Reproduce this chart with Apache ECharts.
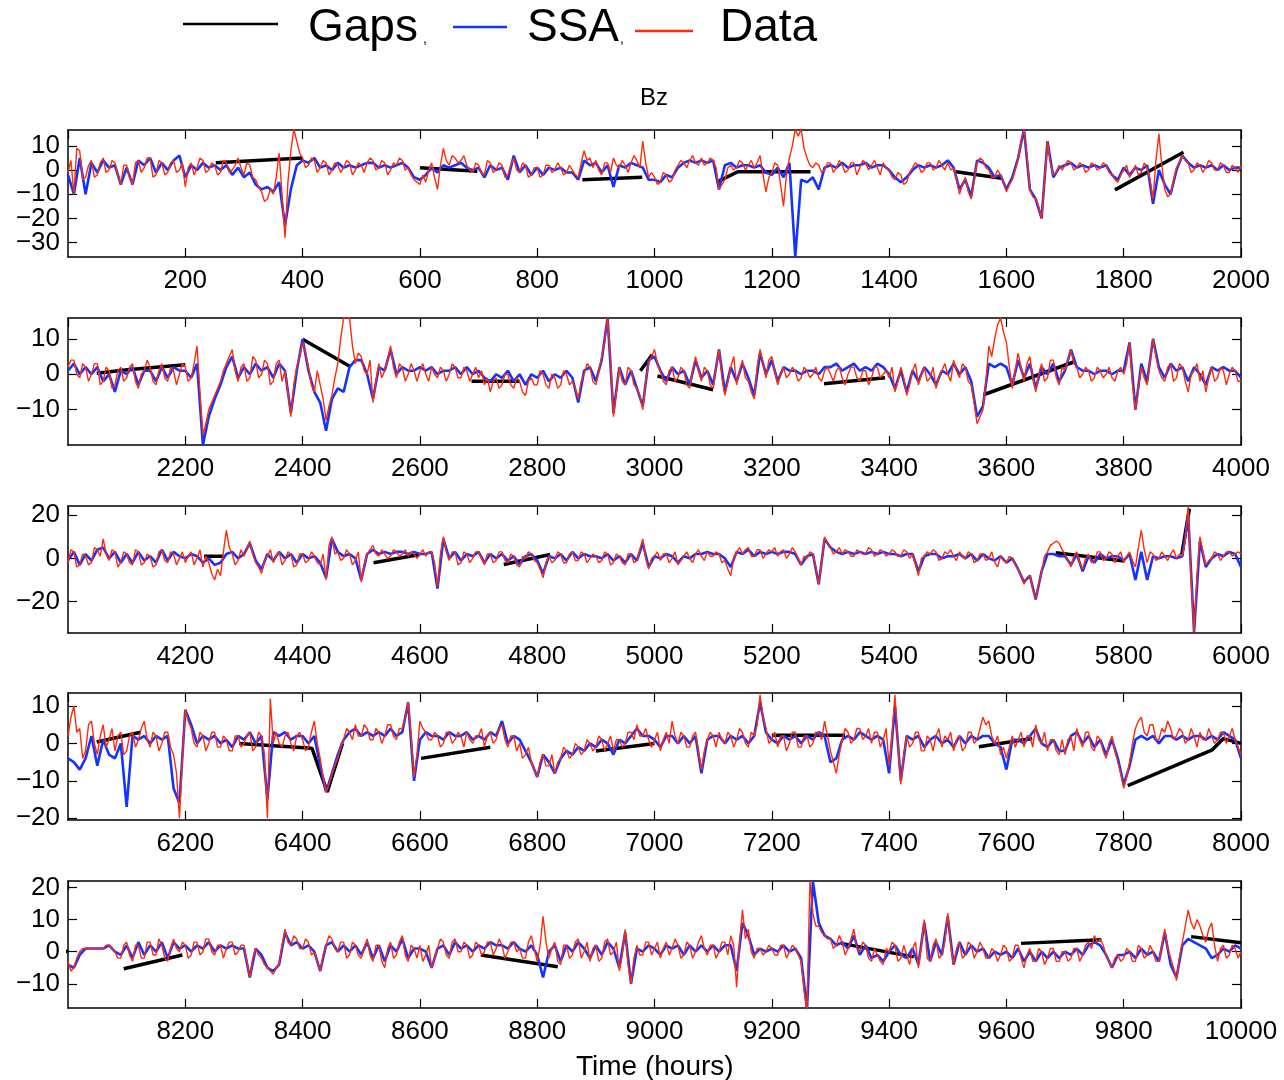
<!DOCTYPE html>
<html>
<head>
<meta charset="utf-8">
<script src="https://cdn.jsdelivr.net/npm/echarts@6/dist/echarts.min.js"></script>
<style>
  html, body { margin: 0; padding: 0; background: #fff; }
  #chart { width: 1284px; height: 1080px; }
</style>
</head>
<body>
<div id="chart"></div>
<script>
const dataStep = 5;
const ssaStep = 10;

const dataBz = [
  // 0
  -1, 4, -10, 9, 8, -4, -3, 2, 4, -3, -2, 3, 5, -1, 0, 4, 3, -2, -6, 2,
  2, -3, -6, 3, 4, -1, 1, 5, 5, -3, -2, 4, 3, -2, -1, 3, 4, -1, 0, 3,
  -7, 1, 3, -2, 1, 5, 4, -1, 0, 3, 2, -2, -1, 4, 3, -1, 0, 2, 5, 1,
  -2, 3, 2, -3, -4, -7, -9, -13, -12, -8, -10, -3, 7, -10, -28, -5, 8, 17, 12, 7,
  5, 1, 2, 5, 4, -1, 1, 4, 3, -2, 0, 3, 2, -1, 1, 4, 3, -2, 0, 3,
  2, -1, 3, 5, 4, 0, 1, 4, 3, -2, 0, 3, 2, 5, 4, 0, 1, -2, -4, -5,
  -6, -2, -5, 0, 3, -3, -8, 2, 9, 4, 2, 6, 5, 3, 4, 6, 2, 0, -1, 3,
  2, -1, -2, 4, 3, -1, 0, 3, 2, -3, -2, 2, 5, 0, -1, 3, 2, -3, -2, 1,
  1, -3, -2, 2, 2, -1, 0, 3, 1, -2, -1, 2, 0, -2, -3, 3, 8, 4, 5, 1,
  4, 0, -2, 3, 3, -1, 5, 2, 1, 4, 2, -1, 3, 6, 4, 1, 12, 3, -3, -1,
  // 1000
  -3, -6, -5, -1, -2, -5, -4, 0, 2, 4, 3, 1, 4, 6, 3, 2, 5, 2, 3, 5,
  4, 1, -8, -6, -4, 1, 2, 0, 1, 4, 3, 0, 2, 4, 1, 3, 6, -2, -9, -3,
  -1, 3, 2, -6, -15, -2, 5, 10, 17, 14, 17, 9, 5, 2, 1, 3, 2, -1, 0, 3,
  3, -1, 1, 4, 2, -1, 0, 3, 3, -2, 1, 4, 3, 0, 2, 4, 1, -2, 3, 1,
  0, -3, -4, -1, -2, -6, -5, -1, 1, 3, 2, -1, 0, 3, 3, 0, 1, 4, 2, 0,
  3, 0, 1, -4, -10, -6, -3, -9, -12, -4, 3, 5, 4, 1, 0, -3, -3, 0, -2, -5,
  -9, -6, -4, 0, 5, 12, 17, 6, -8, -11, -12, -15, -20, -5, 12, 3, -2, -1, 2, 0,
  2, 4, 3, 0, 1, 3, 2, -1, 0, 3, 2, 0, 1, 3, 2, -1, -2, -4, -5, -2,
  0, 2, -3, -1, 2, -2, -1, 3, 1, -4, -12, 4, 15, 2, -8, -11, -10, -4, 1, 3,
  6, 4, 3, -1, 0, 3, 2, -1, 1, 4, 3, 0, 0, 3, 2, -1, -1, 2, 1, -1,
  // 2000
  2, 4, 4, 0, -1, 3, 2, -2, 0, 3, 3, -3, -2, 2, 1, -4, -3, 1, 2, -2,
  -1, 2, 3, -2, -4, 0, 1, 4, 2, -2, -3, 1, 3, -1, -2, 2, 1, -3, 0, 3,
  2, -2, -1, 3, 8, -5, -17, -14, -10, -8, -6, -4, -2, 1, 3, 5, 7, 1, -2, 2,
  3, -2, -1, 5, 4, -1, 0, 4, 3, -3, -2, 3, 4, -2, 1, -5, -12, -3, 2, 5,
  9, 6, 2, -3, -5, 1, -3, -7, -13, -9, -6, -1, 3, 10, 16, 16, 16, 8, 3, 6,
  5, 1, 0, 4, -8, -2, 3, -1, 1, 4, 8, 2, -1, 3, 2, -2, 0, 3, 1, -2,
  1, 3, 0, -2, 2, 0, -1, 2, 1, -2, 0, 3, 2, -1, -1, 2, 1, -2, 0, 2,
  -1, 1, -3, -1, -5, -2, -1, -4, -3, 0, 0, -3, -4, -1, -2, -5, -6, -2, -1, -3,
  -3, 1, 0, -3, -4, 0, -1, -4, -3, 1, 0, -3, -2, -4, -7, -2, 0, 3, 2, -2,
  -3, 1, 5, 9, 16, 4, -12, -5, 2, -2, -3, 2, 1, -3, -4, -6, -10, -2, 3, 5,
  // 3000
  7, 3, 1, -2, -3, 1, 2, -2, -1, 2, 1, -3, -4, 1, 5, 1, -2, 2, 1, -3,
  -4, 2, 7, -1, -6, -2, 2, 5, -3, 1, 4, -1, -2, -5, -7, 2, 7, 3, -1, 4,
  5, 1, -3, 0, 2, -1, 0, 2, 1, -2, -1, 2, 1, -1, 0, 2, -1, -2, 1, 2,
  0, -2, 1, 2, -1, -3, 0, 2, 2, -1, -2, 1, 1, -3, -1, 2, 2, -1, 0, 1,
  -1, 2, -5, -2, 2, -1, -6, -3, 1, 3, -3, 0, 2, -2, -1, 2, -4, -1, 1, 3,
  0, -2, 4, 1, -1, 3, 2, -2, -3, -8, -14, -12, -10, -2, 8, 5, 10, 14, 16, 12,
  9, 2, -4, 1, 6, 2, -2, 3, 5, -1, -5, 0, 3, -2, -1, 4, 4, -1, -3, 2,
  1, 4, 7, 3, 2, -1, 0, 2, 1, -2, -1, 2, 1, -1, 0, 2, -1, -2, 1, 2,
  0, 3, 9, -3, -10, -4, 2, -1, -3, 4, 10, 5, 1, -1, -2, 2, 3, -2, -1, 3,
  2, -2, -5, 0, 1, 3, -2, 1, -5, -1, 2, -2, -1, 2, 1, -3, 0, 2, 1, -2,
  // 4000
  -2, 4, 3, -4, -3, 2, 1, -3, -2, 5, 4, 1, 9, 2, -1, 4, 3, -4, -2, 3,
  2, -2, -3, 4, 3, -3, -2, 2, 1, -4, -3, 3, 4, -1, -2, 3, 2, -3, 0, 3,
  -2, 1, 3, -3, 0, 4, -4, 1, -2, -7, -10, -5, -8, 3, 13, 5, 2, -3, -1, 4,
  1, 4, 8, 2, -2, -4, -7, -1, 1, 4, -2, 1, 3, -3, -1, 3, 2, -4, -3, 2,
  2, -2, -1, 3, 1, -2, -3, 2, -10, 6, 10, 2, 3, -1, 0, 4, 2, -3, -1, 3,
  -11, -3, 2, 4, 6, 2, 1, 4, 2, 0, 1, 4, 3, 1, 2, 4, 1, 3, 2, 0,
  2, 4, 1, 3, 3, -2, -13, 2, 10, 3, -1, 3, 3, -3, -2, 3, 2, -2, 0, 3,
  3, 0, -3, 2, 2, -2, -1, 3, 3, -1, -2, 2, 1, -3, -4, 1, 0, 3, 2, -1,
  -2, -5, -9, -2, 1, -2, -1, 3, 2, -2, -2, 2, 3, -1, -1, 3, 2, -2, 0, 2,
  1, -2, -1, 3, 2, -3, -2, 2, 1, -2, -3, 2, 2, -2, -1, 4, 9, 0, -5, 0,
  // 5000
  1, 3, -1, 2, 2, -2, 0, 3, -3, -1, 1, 3, 0, -2, 2, 4, 1, -1, 3, 1,
  1, 3, 2, -2, -1, -5, -8, 0, 3, 5, 2, 4, 5, 1, 1, 4, 4, 0, 2, 4,
  3, 5, 1, 3, 4, 0, 2, 5, 3, 0, -3, 1, 0, 3, 2, -4, -12, -2, 10, 7,
  5, 2, 3, 5, 2, 4, 3, 1, 1, 4, 3, 2, 2, 5, 4, 1, 2, 4, 3, 1,
  2, 4, 3, 1, 1, 4, 3, 0, 2, -3, -8, 0, 1, 3, 2, 4, 3, -1, 0, 3,
  2, 4, 1, -1, 3, 1, 0, 3, 2, -2, -1, 2, 2, -1, 0, 3, -2, -4, 1, -1,
  -2, 1, 0, -3, -5, -8, -12, -9, -8, -14, -19, -12, -6, 1, 3, 6, 7, 8, 7, 4,
  2, -1, -4, 1, 3, -2, -5, 0, 2, -2, -1, 3, 3, -1, 0, 3, 2, -2, 1, 3,
  -2, 1, 3, -1, -4, 5, 13, 4, -2, 3, 2, -1, 0, 3, 1, -1, 2, 4, 0, 2,
  1, 8, 24, -10, -34, -8, 10, 3, -3, -1, 0, 3, 2, -1, 1, 3, 3, 1, 2, 3,
  // 6000
  2, 7, 10, 3, 4, -4, -2, 5, 6, 0, -3, 2, 5, -1, 1, 4, -2, 2, 3, -3,
  -2, 2, 3, -1, 1, 4, 6, 1, -1, 3, 2, -2, 0, 3, 3, -1, -3, -8, -20, -4,
  9, 6, 4, 0, -1, 3, 2, -2, 0, 3, 3, -1, -1, 2, 1, -2, -2, 2, 2, -1,
  0, 2, 3, -2, -1, 3, 2, -3, -20, 12, 0, 3, 0, -1, 2, 3, 0, -2, 2, 3,
  1, -2, -1, 3, 6, 0, -4, -9, -13, -11, -8, -6, -4, -1, 1, 4, 3, 1, 5, 2,
  2, 5, 4, 1, 1, 4, 3, 0, 2, 5, 5, 2, 1, 4, 4, 7, 11, 2, -9, -3,
  6, 4, 3, 1, 1, 3, 2, -1, 0, 3, 3, 0, 1, 3, 2, -1, 3, 1, 0, 2,
  2, 4, -1, 2, 3, 0, 1, 4, 5, 1, -1, 2, 2, -2, 0, -4, -3, -1, -5, -7,
  -9, -5, -3, -6, -6, -3, -8, -5, -4, -1, -2, -4, -3, 0, -1, -3, -2, 1, 0, -2,
  -1, 2, 1, -2, 0, 2, -2, 1, 1, -1, 0, 3, 3, 1, 5, 2, 2, 4, 1, -1,
  // 7000
  1, 3, -2, 1, 3, 0, 6, 2, 0, 3, 2, -1, -1, 2, 3, -2, -7, -2, 1, 3,
  2, -1, 3, 1, 0, 3, 2, -1, 1, 4, 3, 0, -1, 3, 2, 5, 13, 7, 4, 0,
  1, 3, -1, 2, 2, -2, 0, 3, 3, -1, -1, 2, 2, -1, 0, 3, 3, 1, 6, 2,
  -2, -5, -8, -3, 1, 4, 3, 0, 1, 4, 4, 1, 2, 4, 0, 3, 3, -1, 1, 4,
  -6, 2, 13, 0, -11, -3, 2, -1, 0, 3, 3, -2, -2, 2, 1, -2, 2, 4, -1, 2,
  1, 3, -2, 1, 2, -2, -1, 3, 3, 0, 1, 4, 7, 5, 6, 2, 0, 2, -3, -1,
  -4, -1, 2, -1, 1, 3, -1, 2, 2, -1, 5, 1, 0, 3, -2, 1, 1, -2, -3, 1,
  -3, 1, 2, -2, 4, 1, -1, 3, 3, -1, -2, 2, 1, -2, -4, 0, 2, -2, -5, -8,
  -12, -9, -5, 0, 4, 6, 7, 3, 2, 5, 5, 1, 1, 4, 3, 6, 4, 1, 2, 4,
  3, 0, 1, 4, 2, -1, 3, 1, 1, 4, 2, 0, 1, 3, 3, 0, 2, 4, 1, -1,
  // 8000
  -3, -6, -5, -2, 0, 1, 1, 1, 1, 1, 1, 1, 1, 2, 2, 1, 0, -2, -2, 2,
  3, -1, -3, 2, 2, -2, -2, 3, 3, -1, -1, 4, 2, -2, -3, 1, 4, 1, 0, 3,
  2, -2, -1, 3, 3, -1, 0, 4, 4, 0, -1, 2, 2, -2, 1, 3, 3, -1, 0, 2,
  2, -3, -8, -2, 1, -1, -2, -4, -5, -6, -7, -5, -4, 2, 7, 3, 2, 5, 4, 1,
  1, 4, 3, -1, 0, -3, -6, -1, 2, 5, 4, 1, 0, 3, 3, -2, -1, 3, 2, -1,
  -2, 1, 4, -1, -3, 2, 2, -3, -5, 1, 3, -2, -1, 3, 5, -1, -3, 2, 1, -2,
  2, -3, -1, 2, -5, -2, 1, 4, 3, -1, -2, 3, 4, 0, 0, 3, 2, -2, -1, 3,
  2, -1, 0, 3, 3, -1, 1, 4, 2, -2, 0, 3, 3, 0, 1, -2, -2, 3, 5, 1,
  -3, 2, 11, 3, -2, 1, 3, -3, -4, 2, 2, -2, -1, 3, 4, -2, 0, 3, -3, 1,
  2, -3, -2, 3, 4, -1, 0, 3, -6, -1, 7, -4, -10, -2, 2, -1, -1, 3, 3, -1,
  // 9000
  1, 3, -2, 1, 3, -1, 1, 4, 2, -2, -1, 3, 2, -2, 0, 3, 5, 1, -1, 2,
  2, -2, 0, 3, 3, -1, 5, 2, -11, 3, 13, 4, 7, 0, -2, 1, 1, -1, 0, 2,
  1, -1, -1, 2, 2, -2, 0, 2, 1, -1, -3, -12, -18, 22, 12, 8, 8, 6, 5, 4,
  4, 1, 2, 5, 3, -1, 1, 4, 7, 1, 0, 3, 2, -2, -3, 1, -1, -3, -4, 1,
  0, 3, 2, -3, -2, 2, -1, -4, 1, 3, -5, 2, 10, -2, -3, 2, 4, -2, -1, 3,
  12, 2, -4, 1, 3, -2, -1, 3, 2, -2, 0, 3, 1, -2, -2, 1, 0, -3, -1, 2,
  1, -3, -2, 2, 2, -2, -5, -1, 1, -3, -3, 1, 0, -4, -2, 1, 1, -3, -3, 0,
  0, -3, -2, 1, 1, -3, -1, 2, 3, 1, 5, 3, 4, 2, -1, -3, -5, -2, -1, -3,
  -2, 1, 0, -3, -3, 2, 1, -2, -1, 2, 0, -3, -3, 2, 7, 1, -2, -5, -9, -2,
  3, 8, 13, 9, 7, 10, 8, 5, 3, 7, 9, 2, -3, 1, 2, -2, -1, 2, 1, -2,
  // 10000
  0
];

const ssaBz = [
  // 0
  -2, -10, 5, -10, 3, -1, 4, 1, 2, -6,
  1, -6, 4, 2, 5, -1, 3, 0, 4, 6,
  -3, 2, 0, 3, 1, 2, 0, 2, -2, 1,
  -3, -1, -6, -8, -7, -9, -5, -23, -8, 2,
  4, 3, 5, 1, 2, 0, 3, 1, 2, 1,
  2, 3, 3, 1, 2, 1, 2, 3, 1, -3,
  -4, -2, 1, -1, 2, 1, 2, 3, 1, 0,
  1, -3, 2, 0, 1, -4, 6, -1, 2, -2,
  1, -2, 1, 0, 1, -1, -1, -4, 4, 2,
  3, -1, 2, -7, 2, 1, 3, 2, 1, -4,
  // 1000
  -4, -5, -2, -3, 1, 3, 4, 3, 4, 3,
  4, -8, 2, 3, 1, 2, 2, 1, 2, -1,
  -2, 1, -3, 3, -36, -4, -5, -3, -8, 1,
  2, 1, 3, 1, 2, 2, 3, 1, 2, 2,
  0, -3, -5, -3, 0, 2, 1, 2, 1, 2,
  4, 1, -8, -4, -11, 4, 3, 1, -3, -2,
  -8, -3, 5, 17, -8, -12, -20, 12, -3, 1,
  2, 3, 1, 2, 1, 2, 1, 2, -2, -4,
  1, -2, 1, 0, 2, -14, 0, -6, -10, 0,
  6, 3, 1, 2, 1, 2, 0, 2, 0, 1,
  // 2000
  1, 3, 0, 2, 0, 2, -2, 0, -5, 1,
  0, 2, -3, 1, 1, -2, 2, -1, 2, 1,
  1, -1, 3, -20, -12, -7, -3, 2, 5, -1,
  2, 0, 3, 1, 2, -1, 3, 1, -11, 1,
  10, 1, -5, -8, -16, -7, -4, -5, 2, 4,
  4, 0, -7, 2, 1, 7, 0, 2, 1, 1,
  2, 1, 2, 0, 1, 1, 2, 0, 2, 0,
  1, -1, -2, 0, -1, 1, -2, 0, -3, 0,
  -1, 1, -2, 0, -1, 1, -1, -8, 1, 2,
  -2, 4, 16, -11, 2, -3, 1, -4, -9, 4,
  // 3000
  5, 1, -2, 2, 0, 1, -3, 4, -1, 1,
  -3, 7, -5, 2, -2, 3, -1, -6, 6, 0,
  4, -2, 2, 1, 1, 0, 1, 1, 0, 2,
  2, 3, 1, 2, 3, 1, 2, 1, 3, 2,
  0, -4, 1, -5, 1, -2, 2, 0, -3, 1,
  0, 3, 0, 2, -2, -12, -9, 3, 2, 3,
  2, -3, 4, -1, 3, -4, 2, 0, 3, -2,
  1, 7, 2, 1, 1, 0, 1, 1, 0, 1,
  1, 9, -10, 3, -2, 10, 2, -1, 3, 1,
  2, -2, 2, 0, -3, 2, 1, 2, 1, 1,
  // 4000
  -1, 3, -3, 2, -1, 4, 5, 0, 3, -2,
  2, -2, 3, -1, 1, -2, 4, -1, 3, 1,
  0, 2, 1, -2, 0, -3, -2, 2, 3, 0,
  2, 7, -1, -5, 2, -1, 3, 0, 2, -2,
  2, 0, 1, -2, -9, 9, 3, 1, 2, 0,
  -10, 2, 4, 2, 3, 2, 3, 3, 2, 3,
  2, 2, 3, -14, 9, 0, 3, -1, 2, 1,
  3, -2, 2, 0, 2, -1, 1, -3, 1, 2,
  -1, -7, 1, 0, 2, -1, 3, 0, 2, 1,
  1, 0, 2, -1, 1, -2, 2, -1, 7, -4,
  // 5000
  1, 0, 2, 1, -2, 1, 0, 2, 2, 3,
  2, 2, 0, -4, 3, 2, 4, 1, 3, 2,
  3, 2, 3, 3, 2, -3, 1, 2, -12, 9,
  5, 3, 2, 3, 2, 3, 2, 3, 2, 3,
  2, 2, 1, 2, 2, -6, 1, 2, 2, 0,
  1, 1, 2, 0, 2, -1, 2, 0, -1, 1,
  -2, 0, -5, -11, -8, -19, -6, 2, 2, 1,
  1, -3, 2, -6, 1, -2, 2, 0, 1, 1,
  -1, 2, -10, 3, -10, 1, 0, 1, 1, 0,
  1, 20, -34, 8, -4, 0, 2, 1, 3, 2,
  // 6000
  -4, -5, -7, -4, 2, -6, 1, -3, -4, 0,
  -17, 2, 1, 2, 0, 2, 1, 2, -12, -16,
  9, 5, 0, 2, 1, 2, 0, 1, -1, 2,
  1, 3, 0, 2, -15, 3, 2, 3, 1, 2,
  2, 0, 2, -6, -13, -8, -3, 1, 3, 4,
  2, 3, 2, 3, 2, 4, 2, 3, 11, -10,
  1, 3, 2, 2, 1, 3, 2, 2, 3, 1,
  2, 1, 3, 2, 6, 0, 2, 1, -2, -5,
  -9, -3, -5, -8, -4, -2, -3, -1, -2, 0,
  -1, 1, 0, -3, 1, 0, 2, 4, 2, 2,
  // 7000
  1, -1, 2, 2, 0, 2, 0, 2, -8, 1,
  2, 2, 0, 2, 1, 2, 0, 2, 11, 3,
  1, 0, 2, 1, 2, 0, 2, 1, 3, 2,
  -5, -4, 1, 2, 1, 3, 2, 1, 2, 1,
  -8, 10, -10, 2, 1, 2, -1, 1, 2, 0,
  1, -1, 2, 0, 2, 1, 2, 2, 0, -1,
  -7, 1, 1, 0, 2, 4, 0, -1, 1, -2,
  -2, 2, 3, 0, 2, -1, 1, -3, 1, -4,
  -11, -6, 1, 2, 1, 2, 0, 2, 2, 1,
  2, 1, 2, 2, 1, 2, 1, 3, 2, 1,
  // 8000
  -4, -5, -1, 1, 1, 1, 1, 2, 0, -1,
  2, -2, 3, -1, 2, 0, 3, -2, 3, 1,
  2, 0, 2, 1, 3, 0, 2, 1, 2, 1,
  1, -8, 1, -1, -5, -6, -4, 6, 2, 3,
  1, 2, 0, -6, 2, 3, 0, 2, 0, 2,
  -1, 3, -2, 2, -3, 2, 0, 4, -2, 1,
  1, 0, -5, 1, 2, -1, 3, 1, 2, 0,
  2, 1, 3, 2, 2, 1, 3, 1, 0, 2,
  -1, -8, 0, 2, -3, 2, 0, 3, 1, -2,
  2, -1, 3, 1, -5, 6, -10, 1, 0, 2,
  // 9000
  1, -1, 2, 1, 2, -1, 2, 0, 2, 0,
  2, 0, 2, 2, -6, 9, 5, -1, 1, 0,
  1, 0, 2, 0, 1, -2, -18, 22, 9, 5,
  4, 2, 3, 1, 5, -1, 2, -2, -1, -3,
  0, 2, -1, -2, 1, -4, 9, -3, 3, -1,
  11, -4, 3, -1, 2, 0, 1, -2, 0, -1,
  0, -2, 1, -3, 0, -3, 0, -2, 0, -2,
  0, -1, 1, -1, 2, 3, 2, -1, -5, -1,
  -1, 0, -2, 1, -1, 0, -3, 6, -4, -8,
  2, 4, 3, 2, 1, -2, -1, 1, 0, 2,
  // 10000
  1
];

// straight lines drawn across the data gaps (null = break)
const gapHours = [252, 400, null, 600, 698, null, 877, 979, null, 1106, 1142, 1266, null,
  1514, 1592, null, 1785, 1902, null, 2049, 2101, 2200, null, 2400, 2481, null,
  2688, 2770, null, 2976, 2996, null, 3005, 3100, null, 3289, 3393, null, 3561, 3717, null,
  4232, 4265, null, 4521, 4600, null, 4743, 4822, null, 5684, 5801, null, 5899, 5912, null,
  6049, 6124, null, 6292, 6416, 6442, 6468, null, 6602, 6720, null, 6900, 7000, null,
  7200, 7325, null, 7553, 7644, null, 7807, 7951, 7970, 8000, null, 8095, 8195, null,
  8704, 8835, null, 9318, 9442, null, 9625, 9762, null, 9915, 10000];
const gapValues = [3, 5, null, 1, -0.5, null, -4, -3, null, -5, -0.7, -0.7, null,
  -0.7, -3.4, null, -8.2, 7.4, null, 0.3, 1.3, 2.7, null, 9.9, 2.2, null,
  -2, -2, null, 1, 5.5, null, -0.5, -4.4, null, -2.7, -1, null, -5.8, 3.6, null,
  1, 1, null, -2, 1.8, null, -2.8, 1.8, null, 2.6, -1.2, null, 1.8, 23, null,
  0.4, 3, null, 0, -1.3, -13, 0, null, -4, -1, null, -2, 0, null,
  2.2, 2.2, null, -0.9, 1.3, null, -11.3, -1.7, 1.3, 0, null, -5.3, -1, null,
  -1, -4.7, null, 2.6, -1.6, null, 2.6, 3.7, null, 4.7, 2.8];

const panelStarts = [0, 2000, 4000, 6000, 8000];
const yRanges = [[-36, 16.6], [-20, 15.9], [-34.5, 24.2], [-20.5, 13.5], [-17.5, 22]];
const yTickValues = [[10, 0, -10, -20, -30], [10, 0, -10], [20, 0, -20], [10, 0, -10, -20], [20, 10, 0, -10]];

const FONT = '"Liberation Sans", Arial, Helvetica, sans-serif';
const gridTops = [130, 318, 506, 693, 881];

let myChart = echarts.init(document.getElementById('chart'));

function sliceSeries(vals, step, start) {
  var out = [];
  for (var i = start / step; i <= (start + 2000) / step; i++) {
    out.push([i * step, vals[i]]);
  }
  return out;
}

var gapData = [];
for (var g = 0; g < gapHours.length; g++) {
  if (gapHours[g] === null) gapData.push([gapHours[g - 1], '-']);
  else gapData.push([gapHours[g], gapValues[g]]);
}

var grids = [], xAxes = [], yAxes = [], series = [];
var fmtY = function (v) { return v < 0 ? '\u2212' + (-v) : String(v); };

panelStarts.forEach(function (start, p) {
  grids.push({ left: 68, right: 43, top: gridTops[p], height: 127 });
  var frame = { show: true, onZero: false, lineStyle: { color: '#000', width: 1.5 } };
  var tick = { show: true, inside: true, length: 9, lineStyle: { color: '#000', width: 1.2 } };
  var yLab = { formatter: fmtY, hideOverlap: false, color: '#000', fontSize: 26, fontFamily: FONT, margin: 8 };
  // tick labels sit close together, so they are split over two overlaid left axes
  var labA = yTickValues[p].filter(function (v, i) { return i % 2 === 0; });
  var labB = yTickValues[p].filter(function (v, i) { return i % 2 === 1; });

  xAxes.push({
    type: 'value', gridIndex: p, min: start, max: start + 2000, interval: 200,
    position: 'bottom',
    axisLine: frame, axisTick: tick, splitLine: { show: false },
    axisLabel: { showMinLabel: false, formatter: function (v) { return String(v); },
      color: '#000', fontSize: 26, fontFamily: FONT, margin: 11 }
  });
  xAxes.push({
    type: 'value', gridIndex: p, min: start, max: start + 2000, interval: 200,
    position: 'top',
    axisLine: frame, axisTick: tick, splitLine: { show: false },
    axisLabel: { show: false }
  });
  yAxes.push({
    type: 'value', gridIndex: p, min: yRanges[p][0], max: yRanges[p][1],
    position: 'left',
    axisLine: frame, splitLine: { show: false },
    axisTick: Object.assign({ customValues: yTickValues[p] }, tick),
    axisLabel: Object.assign({ customValues: labA }, yLab)
  });
  yAxes.push({
    type: 'value', gridIndex: p, min: yRanges[p][0], max: yRanges[p][1],
    position: 'right',
    axisLine: frame, splitLine: { show: false },
    axisTick: Object.assign({ customValues: yTickValues[p] }, tick),
    axisLabel: { show: false }
  });
  yAxes.push({
    type: 'value', gridIndex: p, min: yRanges[p][0], max: yRanges[p][1],
    position: 'left', offset: 0,
    axisLine: { show: false }, axisTick: { show: false }, splitLine: { show: false },
    axisLabel: Object.assign({ customValues: labB.length ? labB : [yRanges[p][0] - 100] }, yLab)
  });

  series.push({
    name: 'Gaps', type: 'line', xAxisIndex: 2 * p, yAxisIndex: 3 * p,
    data: gapData, symbol: 'none', connectNulls: false,
    lineStyle: { color: '#000', width: 3.5 }, z: 2
  });
  series.push({
    name: 'SSA', type: 'line', xAxisIndex: 2 * p, yAxisIndex: 3 * p,
    data: sliceSeries(ssaBz, ssaStep, start), symbol: 'none',
    lineStyle: { color: '#1433ff', width: 2.6 }, z: 3
  });
  series.push({
    name: 'Data', type: 'line', xAxisIndex: 2 * p, yAxisIndex: 3 * p,
    data: sliceSeries(dataBz, dataStep, start), symbol: 'none',
    lineStyle: { color: '#ff2a0a', width: 1.4 }, z: 4
  });
});

var option = {
  backgroundColor: '#fff',
  animation: false,
  grid: grids,
  xAxis: xAxes,
  yAxis: yAxes,
  series: series,
  graphic: [
    // legend
    { type: 'line', shape: { x1: 183, y1: 24, x2: 278, y2: 24 }, style: { stroke: '#000', lineWidth: 2.5 } },
    { type: 'text', left: 308, top: 5, style: { text: 'Gaps', font: '46px ' + FONT, fill: '#000' } },
    { type: 'text', left: 423, top: 32, style: { text: ',', font: '14px ' + FONT, fill: '#000' } },
    { type: 'line', shape: { x1: 453, y1: 27, x2: 507, y2: 27 }, style: { stroke: '#1433ff', lineWidth: 2.5 } },
    { type: 'text', left: 527, top: 5, style: { text: 'SSA', font: '46px ' + FONT, fill: '#000' } },
    { type: 'text', left: 620, top: 32, style: { text: ',', font: '14px ' + FONT, fill: '#000' } },
    { type: 'line', shape: { x1: 635, y1: 31, x2: 693, y2: 31 }, style: { stroke: '#ff2a0a', lineWidth: 2.5 } },
    { type: 'text', left: 720, top: 5, style: { text: 'Data', font: '46px ' + FONT, fill: '#000' } },
    // panel title and x label
    { type: 'text', left: 640, top: 86, style: { text: 'Bz', font: '24px ' + FONT, fill: '#000' } },
    { type: 'text', left: 576, top: 1053, style: { text: 'Time (hours)', font: '28px ' + FONT, fill: '#000' } }
  ]
};
myChart.setOption(option);
</script>
</body>
</html>
